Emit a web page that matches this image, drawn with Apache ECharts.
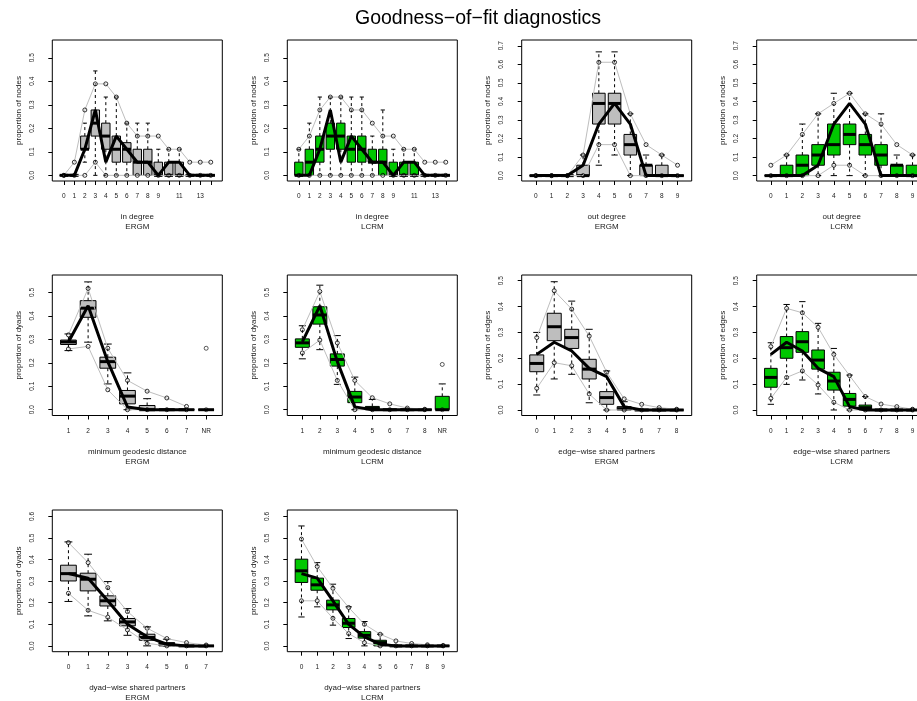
<!DOCTYPE html>
<html>
<head>
<meta charset="utf-8">
<script src="https://cdn.jsdelivr.net/npm/echarts@6/dist/echarts.min.js"></script>
<style>
html, body { margin: 0; padding: 0; background: #fff; }
#chart { width: 917px; height: 701px; }
</style>
</head>
<body>
<div id="chart"></div>
<script>
// ---------------- data ----------------
// Each box row: [whisker low, Q1, median, Q3, whisker high]

// in degree (0..14)
const inDegreeCats = ['0','1','2','3','4','5','6','7','8','9','10','11','12','13','14'];
const inDegreeShown = ['0','1','2','3','4','5','6','7','8','9','11','13'];
const inDegreeObs = [0, 0, 0.111, 0.278, 0.056, 0.167, 0.111, 0.056, 0.056, 0, 0.056, 0.056, 0, 0, 0];

const inDegreeErgmBox = [
  [0, 0, 0, 0, 0], [0, 0, 0, 0, 0], [0.056, 0.111, 0.111, 0.167, 0.222],
  [0, 0.167, 0.222, 0.278, 0.444], [0, 0.111, 0.167, 0.222, 0.333], [0, 0.056, 0.111, 0.167, 0.333],
  [0, 0.056, 0.111, 0.139, 0.222], [0, 0, 0.056, 0.111, 0.222], [0, 0, 0.056, 0.111, 0.222],
  [0, 0, 0, 0.056, 0.111], [0, 0, 0, 0.056, 0.111], [0, 0, 0, 0.056, 0.111],
  [0, 0, 0, 0, 0], [0, 0, 0, 0, 0], [0, 0, 0, 0, 0]
];
const inDegreeErgmUpper = [0, 0.056, 0.278, 0.389, 0.389, 0.333, 0.222, 0.167, 0.167, 0.167, 0.111, 0.111, 0.056, 0.056, 0.056];
const inDegreeErgmLower = [0, 0, 0, 0.056, 0, 0, 0, 0, 0, 0, 0, 0, 0, 0, 0];

const inDegreeLcrmBox = [
  [0, 0, 0, 0.056, 0.111], [0, 0, 0.056, 0.111, 0.222], [0, 0.056, 0.111, 0.167, 0.333],
  [0, 0.111, 0.167, 0.222, 0.333], [0, 0.111, 0.167, 0.222, 0.333], [0, 0.056, 0.111, 0.167, 0.333],
  [0, 0.056, 0.111, 0.167, 0.333], [0, 0.056, 0.056, 0.111, 0.167], [0, 0, 0.056, 0.111, 0.278],
  [0, 0, 0, 0.056, 0.111], [0, 0, 0, 0.056, 0.111], [0, 0, 0, 0.056, 0.111],
  [0, 0, 0, 0, 0], [0, 0, 0, 0, 0], [0, 0, 0, 0, 0]
];
const inDegreeLcrmUpper = [0.111, 0.167, 0.278, 0.333, 0.333, 0.278, 0.278, 0.222, 0.167, 0.167, 0.111, 0.111, 0.056, 0.056, 0.056];
const inDegreeLcrmLower = [0, 0, 0, 0, 0, 0, 0, 0, 0, 0, 0, 0, 0, 0, 0];

// out degree (0..9)
const outDegreeCats = ['0','1','2','3','4','5','6','7','8','9'];
const outDegreeObs = [0, 0, 0, 0.056, 0.278, 0.389, 0.278, 0, 0, 0];

const outDegreeErgmBox = [
  [0, 0, 0, 0, 0], [0, 0, 0, 0, 0], [0, 0, 0, 0, 0], [0, 0, 0, 0.056, 0.111],
  [0.056, 0.278, 0.389, 0.444, 0.667], [0.111, 0.278, 0.389, 0.444, 0.667],
  [0, 0.111, 0.167, 0.222, 0.333], [0, 0, 0.056, 0.056, 0.111], [0, 0, 0, 0.056, 0.111], [0, 0, 0, 0, 0]
];
const outDegreeErgmUpper = [0, 0, 0, 0.111, 0.611, 0.611, 0.333, 0.167, 0.111, 0.056];
const outDegreeErgmLower = [0, 0, 0, 0, 0.167, 0.167, 0, 0, 0, 0];

const outDegreeLcrmBox = [
  [0, 0, 0, 0, 0], [0, 0, 0, 0.056, 0.111], [0, 0, 0.056, 0.111, 0.278], [0, 0.056, 0.111, 0.167, 0.333],
  [0, 0.111, 0.167, 0.278, 0.444], [0, 0.167, 0.222, 0.278, 0.444], [0, 0.111, 0.167, 0.222, 0.333],
  [0, 0.056, 0.111, 0.167, 0.333], [0, 0, 0.056, 0.056, 0.111], [0, 0, 0, 0.056, 0.111]
];
const outDegreeLcrmUpper = [0.056, 0.111, 0.222, 0.333, 0.389, 0.444, 0.333, 0.278, 0.167, 0.111];
const outDegreeLcrmLower = [0, 0, 0, 0, 0.056, 0.056, 0, 0, 0, 0];

// minimum geodesic distance (NR = not reachable)
const geoErgmCats = ['1','2','3','4','5','6','7','NR'];
const geoErgmObs = [0.289, 0.443, 0.205, 0.012, 0, 0, 0, 0];
const geoErgmBox = [
  [0.252, 0.278, 0.289, 0.297, 0.323], [0.288, 0.394, 0.433, 0.465, 0.545], [0.110, 0.177, 0.205, 0.224, 0.280],
  [0, 0.025, 0.058, 0.082, 0.157], [0, 0, 0, 0.018, 0.047], [0, 0, 0, 0, 0], [0, 0, 0, 0, 0], [0, 0, 0, 0, 0]
];
const geoErgmUpper = [0.319, 0.517, 0.262, 0.125, 0.079, 0.050, 0.014, 0.262];
const geoErgmLower = [0.259, 0.270, 0.085, 0, 0, 0, 0, 0];

const geoLcrmCats = ['1','2','3','4','5','6','7','8','NR'];
const geoLcrmObs = [0.289, 0.443, 0.205, 0.012, 0, 0, 0, 0, 0];
const geoLcrmBox = [
  [0.217, 0.266, 0.285, 0.302, 0.358], [0.256, 0.365, 0.404, 0.439, 0.531], [0.108, 0.186, 0.214, 0.238, 0.316],
  [0, 0.030, 0.054, 0.078, 0.139], [0, 0, 0.005, 0.014, 0.044], [0, 0, 0, 0, 0], [0, 0, 0, 0, 0],
  [0, 0, 0, 0, 0], [0, 0, 0, 0.057, 0.110]
];
const geoLcrmUpper = [0.341, 0.504, 0.285, 0.125, 0.051, 0.025, 0.007, 0.002, 0.193];
const geoLcrmLower = [0.242, 0.297, 0.125, 0, 0, 0, 0, 0, 0];

// edge-wise shared partners
const espErgmCats = ['0','1','2','3','4','5','6','7','8'];
const espErgmObs = [0.215, 0.262, 0.228, 0.161, 0.129, 0.013, 0, 0, 0];
const espErgmBox = [
  [0.058, 0.148, 0.180, 0.213, 0.300], [0.120, 0.268, 0.322, 0.374, 0.496], [0.138, 0.238, 0.280, 0.312, 0.421],
  [0.028, 0.120, 0.158, 0.196, 0.312], [0, 0.022, 0.048, 0.071, 0.151], [0, 0, 0.005, 0.013, 0.032],
  [0, 0, 0, 0, 0], [0, 0, 0, 0, 0], [0, 0, 0, 0, 0]
];
const espErgmUpper = [0.280, 0.461, 0.390, 0.286, 0.146, 0.043, 0.022, 0.009, 0.003];
const espErgmLower = [0.084, 0.183, 0.171, 0.062, 0, 0, 0, 0, 0];

const espLcrmCats = ['0','1','2','3','4','5','6','7','8','9'];
const espLcrmObs = [0.215, 0.262, 0.228, 0.161, 0.129, 0.013, 0, 0, 0, 0];
const espLcrmBox = [
  [0.022, 0.088, 0.126, 0.161, 0.260], [0.099, 0.200, 0.241, 0.284, 0.408], [0.116, 0.223, 0.264, 0.303, 0.419],
  [0.062, 0.158, 0.193, 0.232, 0.335], [0, 0.077, 0.112, 0.146, 0.238], [0, 0.015, 0.041, 0.064, 0.135],
  [0, 0, 0.009, 0.019, 0.052], [0, 0, 0, 0, 0], [0, 0, 0, 0, 0], [0, 0, 0, 0, 0]
];
const espLcrmUpper = [0.245, 0.393, 0.376, 0.320, 0.215, 0.133, 0.052, 0.023, 0.013, 0.003];
const espLcrmLower = [0.045, 0.126, 0.151, 0.097, 0.030, 0, 0, 0, 0, 0];

// dyad-wise shared partners
const dspErgmCats = ['0','1','2','3','4','5','6','7'];
const dspErgmObs = [0.335, 0.314, 0.209, 0.100, 0.042, 0.008, 0, 0];
const dspErgmBox = [
  [0.206, 0.301, 0.335, 0.374, 0.482], [0.139, 0.255, 0.309, 0.337, 0.425], [0.116, 0.185, 0.209, 0.232, 0.298],
  [0.049, 0.093, 0.111, 0.127, 0.173], [0, 0.026, 0.039, 0.054, 0.088], [0, 0, 0.008, 0.015, 0.031],
  [0, 0, 0, 0, 0], [0, 0, 0, 0, 0]
];
const dspErgmUpper = [0.479, 0.386, 0.270, 0.159, 0.082, 0.034, 0.015, 0.004];
const dspErgmLower = [0.244, 0.165, 0.133, 0.074, 0.012, 0, 0, 0];

const dspLcrmCats = ['0','1','2','3','4','5','6','7','8','9'];
const dspLcrmObs = [0.335, 0.314, 0.209, 0.100, 0.042, 0.008, 0, 0, 0, 0];
const dspLcrmBox = [
  [0.134, 0.294, 0.348, 0.402, 0.556], [0.181, 0.258, 0.283, 0.314, 0.386], [0.096, 0.167, 0.190, 0.212, 0.286],
  [0.034, 0.085, 0.105, 0.127, 0.181], [0, 0.036, 0.049, 0.066, 0.113], [0, 0, 0.015, 0.026, 0.054],
  [0, 0, 0, 0, 0], [0, 0, 0, 0, 0], [0, 0, 0, 0, 0], [0, 0, 0, 0, 0]
];
const dspLcrmUpper = [0.495, 0.368, 0.267, 0.178, 0.100, 0.054, 0.023, 0.011, 0.005, 0.002];
const dspLcrmLower = [0.209, 0.209, 0.128, 0.057, 0.015, 0, 0, 0, 0, 0];

// y tick labels
const yTicks05 = [0, 0.1, 0.2, 0.3, 0.4, 0.5];
const yTicks06 = [0, 0.1, 0.2, 0.3, 0.4, 0.5, 0.6];
const yTicks07 = [0, 0.1, 0.2, 0.3, 0.4, 0.5, 0.6, 0.7];

// ---------------- drawing ----------------
const FONT = '"Liberation Sans", Arial, Helvetica, sans-serif';
const GRAY = '#bebebe';
const GREEN = '#00c800';
const TXT = '#1a1a1a';

const colLeft = [52.3, 287.3, 521.7, 756.7];
const rowTop = [40, 275, 510];
const rowHeight = [141, 140.5, 141.7];
const plotWidth = 170;

const panels = [
  { cats: inDegreeCats, shown: inDegreeShown, start: 0, box: inDegreeErgmBox, upper: inDegreeErgmUpper, lower: inDegreeErgmLower, obs: inDegreeObs,
    fill: GRAY, xName: 'in degree', model: 'ERGM', yName: 'proportion of nodes', yTicks: yTicks05, yMin: -0.024, yMax: 0.5755, row: 0, col: 0 },
  { cats: inDegreeCats, shown: inDegreeShown, start: 0, box: inDegreeLcrmBox, upper: inDegreeLcrmUpper, lower: inDegreeLcrmLower, obs: inDegreeObs,
    fill: GREEN, xName: 'in degree', model: 'LCRM', yName: 'proportion of nodes', yTicks: yTicks05, yMin: -0.024, yMax: 0.5755, row: 0, col: 1 },
  { cats: outDegreeCats, shown: outDegreeCats, start: 0, box: outDegreeErgmBox, upper: outDegreeErgmUpper, lower: outDegreeErgmLower, obs: outDegreeObs,
    fill: GRAY, xName: 'out degree', model: 'ERGM', yName: 'proportion of nodes', yTicks: yTicks07, yMin: -0.029, yMax: 0.731, row: 0, col: 2 },
  { cats: outDegreeCats, shown: outDegreeCats, start: 0, box: outDegreeLcrmBox, upper: outDegreeLcrmUpper, lower: outDegreeLcrmLower, obs: outDegreeObs,
    fill: GREEN, xName: 'out degree', model: 'LCRM', yName: 'proportion of nodes', yTicks: yTicks07, yMin: -0.029, yMax: 0.731, row: 0, col: 3 },
  { cats: geoErgmCats, shown: geoErgmCats, start: 1, box: geoErgmBox, upper: geoErgmUpper, lower: geoErgmLower, obs: geoErgmObs,
    fill: GRAY, xName: 'minimum geodesic distance', model: 'ERGM', yName: 'proportion of dyads', yTicks: yTicks05, yMin: -0.0247, yMax: 0.5744, row: 1, col: 0 },
  { cats: geoLcrmCats, shown: geoLcrmCats, start: 1, box: geoLcrmBox, upper: geoLcrmUpper, lower: geoLcrmLower, obs: geoLcrmObs,
    fill: GREEN, xName: 'minimum geodesic distance', model: 'LCRM', yName: 'proportion of dyads', yTicks: yTicks05, yMin: -0.0247, yMax: 0.5744, row: 1, col: 1 },
  { cats: espErgmCats, shown: espErgmCats, start: 0, box: espErgmBox, upper: espErgmUpper, lower: espErgmLower, obs: espErgmObs,
    fill: GRAY, xName: 'edge\u2212wise shared partners', model: 'ERGM', yName: 'proportion of edges', yTicks: yTicks05, yMin: -0.0213, yMax: 0.522, row: 1, col: 2 },
  { cats: espLcrmCats, shown: espLcrmCats, start: 0, box: espLcrmBox, upper: espLcrmUpper, lower: espLcrmLower, obs: espLcrmObs,
    fill: GREEN, xName: 'edge\u2212wise shared partners', model: 'LCRM', yName: 'proportion of edges', yTicks: yTicks05, yMin: -0.0213, yMax: 0.522, row: 1, col: 3 },
  { cats: dspErgmCats, shown: dspErgmCats, start: 0, box: dspErgmBox, upper: dspErgmUpper, lower: dspErgmLower, obs: dspErgmObs,
    fill: GRAY, xName: 'dyad\u2212wise shared partners', model: 'ERGM', yName: 'proportion of dyads', yTicks: yTicks06, yMin: -0.027, yMax: 0.630, row: 2, col: 0 },
  { cats: dspLcrmCats, shown: dspLcrmCats, start: 0, box: dspLcrmBox, upper: dspLcrmUpper, lower: dspLcrmLower, obs: dspLcrmObs,
    fill: GREEN, xName: 'dyad\u2212wise shared partners', model: 'LCRM', yName: 'proportion of dyads', yTicks: yTicks06, yMin: -0.027, yMax: 0.630, row: 2, col: 1 }
];

// R-style box: dashed whiskers, half-width staples, bordered box, thick median
function makeBoxRenderer(fill) {
  return function (params, api) {
    const x = api.value(0);
    const pts = [1, 2, 3, 4, 5].map(function (d) { return api.coord([x, api.value(d)]); });
    const w = api.size([0.8, 0])[0];
    const cx = pts[0][0];
    const half = w / 2, staple = w / 4;
    const yLo = pts[0][1], yQ1 = pts[1][1], yMed = pts[2][1], yQ3 = pts[3][1], yHi = pts[4][1];
    const dashed = { stroke: '#000', lineWidth: 1, lineDash: [3, 3] };
    const solid = { stroke: '#000', lineWidth: 1 };
    return {
      type: 'group',
      children: [
        { type: 'line', shape: { x1: cx, y1: yQ3, x2: cx, y2: yHi }, style: dashed },
        { type: 'line', shape: { x1: cx, y1: yQ1, x2: cx, y2: yLo }, style: dashed },
        { type: 'line', shape: { x1: cx - staple, y1: yHi, x2: cx + staple, y2: yHi }, style: solid },
        { type: 'line', shape: { x1: cx - staple, y1: yLo, x2: cx + staple, y2: yLo }, style: solid },
        { type: 'rect', shape: { x: cx - half, y: yQ3, width: w, height: yQ1 - yQ3 }, style: { fill: fill, stroke: '#000', lineWidth: 1 } },
        { type: 'line', shape: { x1: cx - half, y1: yMed, x2: cx + half, y2: yMed }, style: { stroke: '#000', lineWidth: 3 } }
      ]
    };
  };
}

const grids = [], xAxes = [], yAxes = [], series = [];

panels.forEach(function (p, k) {
  const n = p.cats.length;
  const pos = function (i) { return p.start + i; };
  const hasNR = p.cats[n - 1] === 'NR';
  const lineCount = hasNR ? n - 1 : n;

  grids.push({
    left: colLeft[p.col], top: rowTop[p.row], width: plotWidth, height: rowHeight[p.row],
    show: true, borderColor: '#000', borderWidth: 1, backgroundColor: 'rgba(0,0,0,0)',
    containLabel: false, outerBoundsMode: 'none'
  });

  const allPos = p.cats.map(function (c, i) { return pos(i); });
  const shownPos = p.shown.map(function (c) { return pos(p.cats.indexOf(c)); });

  xAxes.push({
    type: 'value', gridIndex: k,
    min: p.start - 0.5 - 0.04 * n, max: p.start + n - 0.5 + 0.04 * n,
    splitLine: { show: false }, axisLine: { show: false, onZero: false },
    axisTick: { show: true, length: 4, customValues: allPos, lineStyle: { color: '#000', width: 1 } },
    axisLabel: {
      customValues: shownPos, margin: 12, fontSize: 6.5, color: TXT, fontFamily: FONT, hideOverlap: false,
      formatter: function (v) { return p.cats[Math.round(v - p.start)]; }
    },
    name: p.xName + '\n' + p.model, nameLocation: 'middle', nameGap: 31, nameMoveOverlap: false,
    nameTextStyle: { fontSize: 8, lineHeight: 10, color: TXT, fontFamily: FONT }
  });

  yAxes.push({
    type: 'value', gridIndex: k, min: p.yMin, max: p.yMax,
    splitLine: { show: false }, axisLine: { show: false, onZero: false },
    axisTick: { show: true, length: 4, customValues: p.yTicks, lineStyle: { color: '#000', width: 1 } },
    axisLabel: {
      customValues: p.yTicks, rotate: 90, margin: 16.5, fontSize: 6.5, color: TXT, fontFamily: FONT, hideOverlap: false,
      formatter: function (v) { return v.toFixed(1); }
    },
    name: p.yName, nameLocation: 'middle', nameRotate: 90, nameGap: 30, nameMoveOverlap: false,
    nameTextStyle: { fontSize: 8, color: TXT, fontFamily: FONT }
  });

  // simulated distributions
  series.push({
    type: 'custom', xAxisIndex: k, yAxisIndex: k, z: 2, clip: false, silent: true,
    renderItem: makeBoxRenderer(p.fill),
    encode: { x: 0, y: [1, 2, 3, 4, 5] },
    data: p.box.map(function (b, i) { return [pos(i)].concat(b); })
  });

  // 2.5% / 97.5% envelopes
  [p.upper, p.lower].forEach(function (arr) {
    series.push({
      type: 'line', xAxisIndex: k, yAxisIndex: k, z: 3, silent: true, clip: false,
      symbol: 'circle', symbolSize: 4, showSymbol: true,
      itemStyle: { color: 'rgba(0,0,0,0)', borderColor: '#000', borderWidth: 0.8 },
      lineStyle: { color: '#bebebe', width: 1 },
      data: arr.slice(0, lineCount).map(function (v, i) { return [pos(i), v]; })
    });
  });
  if (hasNR) {
    series.push({
      type: 'scatter', xAxisIndex: k, yAxisIndex: k, z: 3, silent: true,
      symbol: 'circle', symbolSize: 4,
      itemStyle: { color: 'rgba(0,0,0,0)', borderColor: '#000', borderWidth: 0.8 },
      data: [[pos(n - 1), p.upper[n - 1]], [pos(n - 1), p.lower[n - 1]]]
    });
  }

  // observed network
  series.push({
    type: 'line', xAxisIndex: k, yAxisIndex: k, z: 4, silent: true, clip: false,
    symbol: 'none', lineStyle: { color: '#000', width: 3 },
    data: p.obs.slice(0, lineCount).map(function (v, i) { return [pos(i), v]; })
  });
});

const chart = echarts.init(document.getElementById('chart'), null, { renderer: 'canvas' });
chart.setOption({
  animation: false,
  backgroundColor: '#fff',
  textStyle: { fontFamily: FONT },
  graphic: [{
    type: 'text', x: 478, y: 19,
    style: { text: 'Goodness\u2212of\u2212fit diagnostics', fontSize: 19.5, fontFamily: FONT, fill: '#000', align: 'center', verticalAlign: 'middle' }
  }],
  grid: grids,
  xAxis: xAxes,
  yAxis: yAxes,
  series: series
});
</script>
</body>
</html>
